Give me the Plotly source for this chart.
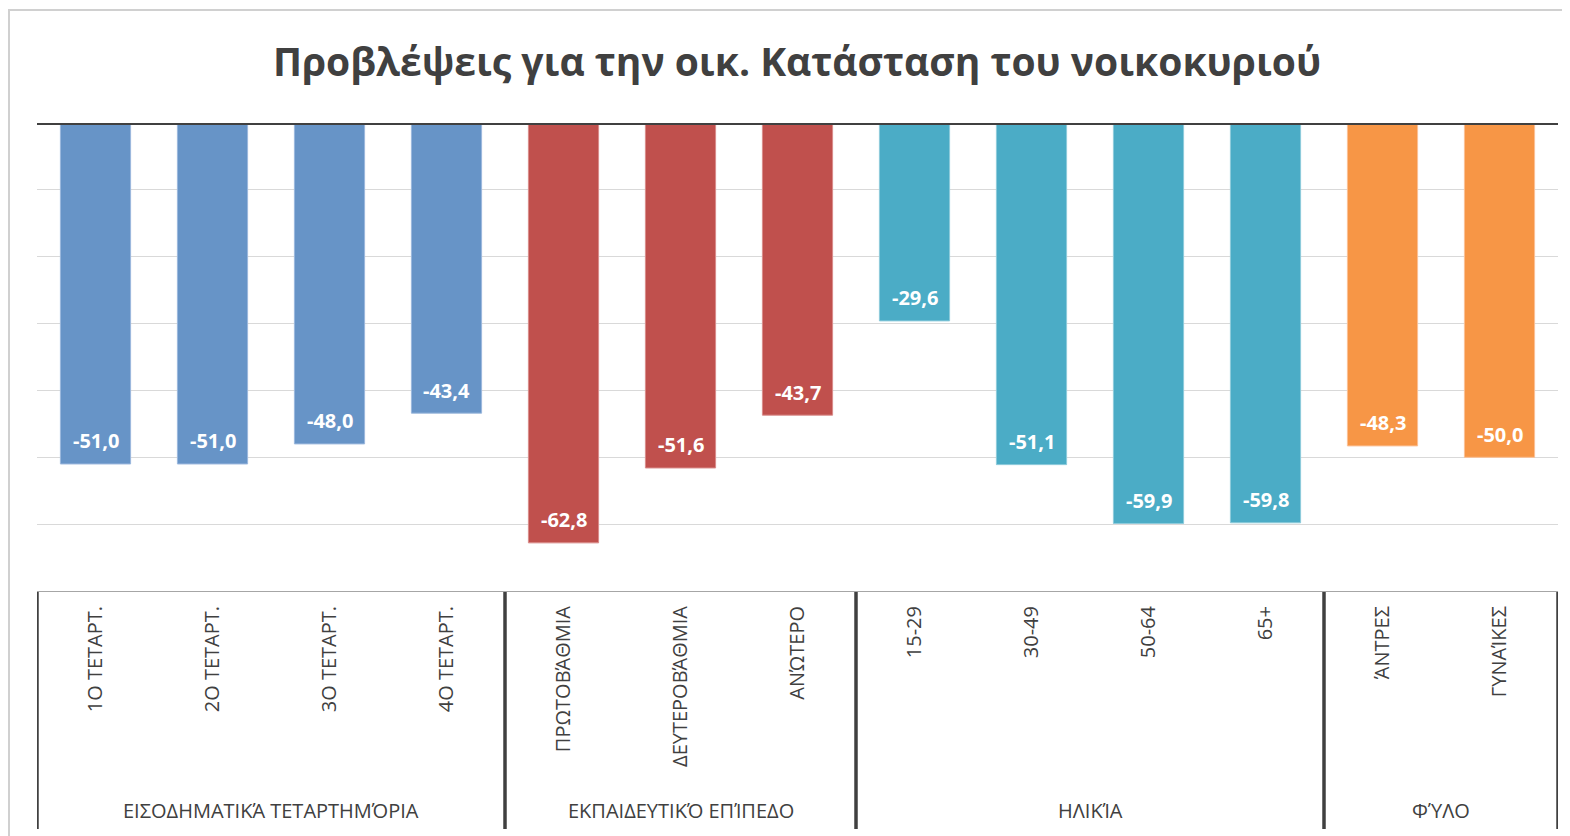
import plotly.graph_objects as go

# ---- data ----
categories = ["1Ο ΤΕΤΑΡΤ.", "2Ο ΤΕΤΑΡΤ.", "3Ο ΤΕΤΑΡΤ.", "4Ο ΤΕΤΑΡΤ.",
              "ΠΡΩΤΟΒΆΘΜΙΑ", "ΔΕΥΤΕΡΟΒΆΘΜΙΑ", "ΑΝΏΤΕΡΟ",
              "15-29", "30-49", "50-64", "65+",
              "ΆΝΤΡΕΣ", "ΓΥΝΑΊΚΕΣ"]
values = [-51.0, -51.0, -48.0, -43.4,
          -62.8, -51.6, -43.7,
          -29.6, -51.1, -59.9, -59.8,
          -48.3, -50.0]
groups = ["ΕΙΣΟΔΗΜΑΤΙΚΆ ΤΕΤΑΡΤΗΜΌΡΙΑ", "ΕΚΠΑΙΔΕΥΤΙΚΌ ΕΠΊΠΕΔΟ", "ΗΛΙΚΊΑ", "ΦΎΛΟ"]
group_sizes = [4, 3, 4, 2]
group_colors = ["#6794C7", "#C0504D", "#4BACC6", "#F79646"]
group_edges = ["#9BB8DD", "#D98C8A", "#8DCBDB", "#FBC095"]
title = "Προβλέψεις για την οικ. Κατάσταση του νοικοκυριού"

FONT = "Open Sans"
DARK = "#404040"

W, H = 1570, 836
OFF = 8  # page body margin offset
ml, mr, mt, mb = 37 - OFF, 12 + OFF, 123 - OFF, 245 + OFF
pw, ph = W - ml - mr, H - mt - mb

def px_x(px):
    return (px - OFF - ml) / pw

def px_y(py):
    return (H - mb - (py - OFF)) / ph

fig = go.Figure()

xs = list(range(len(categories)))
bar_colors, edge_colors = [], []
for c, e, n in zip(group_colors, group_edges, group_sizes):
    bar_colors += [c] * n
    edge_colors += [e] * n

fig.add_trace(go.Bar(
    x=xs, y=values, width=0.6,
    marker=dict(color=bar_colors, line=dict(color=edge_colors, width=1)),
    hoverinfo="skip",
))

annotations = []
# data labels
for x, v in zip(xs, values):
    annotations.append(dict(
        x=x, y=v, xref="x", yref="y", text=f"{v:.1f}".replace(".", ","),
        showarrow=False, yshift=23, yanchor="middle",
        font=dict(family=FONT, size=20, color="white", weight="bold"),
    ))

shapes = []
# zero line
shapes.append(dict(type="line", xref="paper", yref="y", x0=0, x1=1, y0=0, y1=0,
                   line=dict(color=DARK, width=4), layer="above"))
# group separators and group labels
start = -0.5
bounds = [start]
for g, n in zip(groups, group_sizes):
    end = start + n
    annotations.append(dict(
        x=(start + end) / 2, y=px_y(810), xref="x", yref="paper", text=g,
        showarrow=False, yanchor="middle",
        font=dict(family=FONT, size=20, color=DARK),
    ))
    bounds.append(end)
    start = end
for b in bounds:
    shapes.append(dict(type="line", xref="x", yref="paper", x0=b, x1=b,
                       y0=px_y(592), y1=px_y(829),
                       line=dict(color=DARK, width=3.5)))
# outer chart border
shapes.append(dict(type="rect", xref="paper", yref="paper",
                   x0=px_x(9), x1=px_x(1580), y0=px_y(10), y1=px_y(850),
                   line=dict(color="#D0D0D0", width=2), layer="below"))

fig.update_layout(
    width=W, height=H,
    margin=dict(l=ml, r=mr, t=mt, b=mb),
    paper_bgcolor="white", plot_bgcolor="white",
    showlegend=False,
    title=dict(text=title, x=px_x(797), xref="paper", xanchor="center",
               y=1 - (62 - OFF) / H, yanchor="middle",
               font=dict(family=FONT, size=39, color=DARK, weight="bold")),
    xaxis=dict(range=[-0.5, len(categories) - 0.5], tickvals=xs, ticktext=categories,
               tickangle=-90, showgrid=False, zeroline=False,
               showline=True, linecolor="#A6A6A6", linewidth=1,
               ticks="", ticklabelstandoff=6,
               tickfont=dict(family=FONT, size=20, color=DARK)),
    yaxis=dict(range=[-70, 0], dtick=10, showticklabels=False, showgrid=True,
               gridcolor="#D9D9D9", gridwidth=1, zeroline=False, showline=False),
    annotations=annotations, shapes=shapes,
    bargap=0.4,
)

fig.write_html("out.html")
